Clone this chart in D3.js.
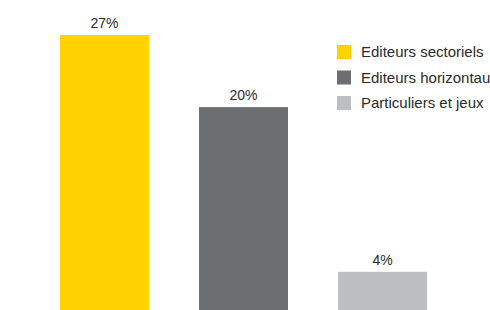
<!DOCTYPE html>
<html lang="fr">
<head>
<meta charset="utf-8"/>
<title>Répartition</title>
<script src="https://cdn.jsdelivr.net/npm/d3@7/dist/d3.min.js"></script>
<style>
  html, body { margin: 0; padding: 0; background: #fff; overflow: hidden; }
  text { font-family: "Liberation Sans", Arial, sans-serif; fill: #2a2a2a; }
</style>
</head>
<body>
<svg id="chart" width="490" height="310"></svg>
<script>
const categories = ['Editeurs sectoriels', 'Editeurs horizontaux', 'Particuliers et jeux'];
const values = [27, 20, 4];
const colors = ['#FFD200', '#6D6E71', '#BDBEC0'];

const svg = d3.select('#chart');

// baseline sits a little below the visible bottom edge
const x = d3.scaleBand().domain(categories).range([60, 427]).paddingInner(0.36).paddingOuter(0);
const y = d3.scaleLinear().domain([0, 27]).range([313, 35]);

svg.append('g')
  .selectAll('rect')
  .data(categories)
  .enter()
  .append('rect')
  .attr('x', d => x(d))
  .attr('width', x.bandwidth())
  .attr('y', (d, i) => y(values[i]))
  .attr('height', (d, i) => y(0) - y(values[i]))
  .attr('fill', (d, i) => colors[i]);

svg.append('g')
  .selectAll('text')
  .data(categories)
  .enter()
  .append('text')
  .attr('x', d => x(d) + x.bandwidth() / 2)
  .attr('y', (d, i) => y(values[i]) - 7)
  .attr('text-anchor', 'middle')
  .style('font-size', '14px')
  .text((d, i) => values[i] + '%');

// legend
const legend = svg.append('g').attr('transform', 'translate(337,45)');
const item = legend.selectAll('g')
  .data(categories)
  .enter()
  .append('g')
  .attr('transform', (d, i) => 'translate(0,' + (i * 25.5) + ')');

item.append('rect')
  .attr('width', 14)
  .attr('height', 14)
  .attr('fill', (d, i) => colors[i]);

item.append('text')
  .attr('x', 24)
  .attr('y', 12)
  .style('font-size', '15px')
  .text(d => d);
</script>
</body>
</html>
